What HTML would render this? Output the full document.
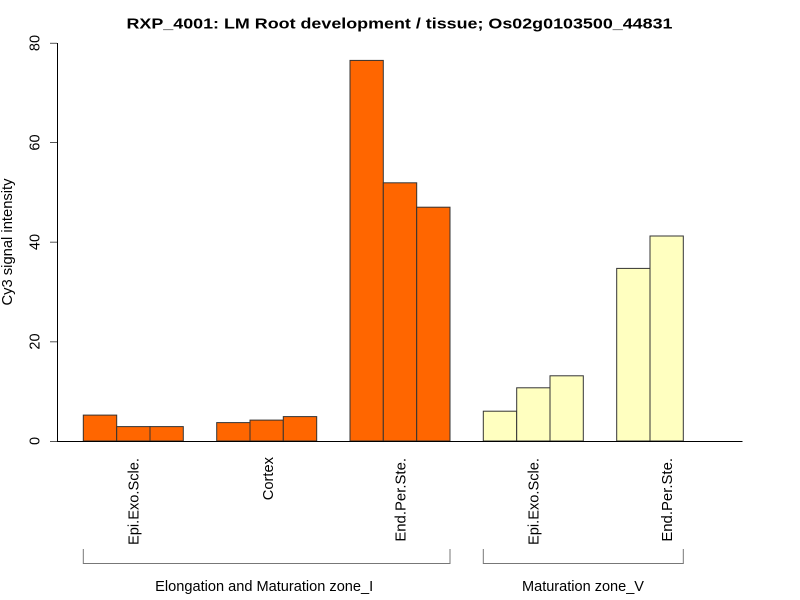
<!DOCTYPE html>
<html><head><meta charset="utf-8"><style>
html,body{margin:0;padding:0;background:#fff;}
svg{display:block;}
text{font-family:"Liberation Sans",Arial,sans-serif;fill:#000;}
</style></head><body>
<svg width="800" height="600" viewBox="0 0 800 600" xmlns="http://www.w3.org/2000/svg">
<rect width="800" height="600" fill="#fff"/>
<text x="399.5" y="28.5" font-size="15" font-weight="bold" text-anchor="middle" textLength="546" lengthAdjust="spacingAndGlyphs">RXP_4001: LM Root development / tissue; Os02g0103500_44831</text>
<g stroke="#333" stroke-width="1">
<rect x="83.3" y="415.1" width="33.4" height="25.9" fill="#FF6600"/>
<rect x="116.7" y="426.6" width="33.3" height="14.4" fill="#FF6600"/>
<rect x="150" y="426.6" width="33.3" height="14.4" fill="#FF6600"/>
<rect x="216.7" y="422.6" width="33.3" height="18.4" fill="#FF6600"/>
<rect x="250" y="420.1" width="33.3" height="20.9" fill="#FF6600"/>
<rect x="283.3" y="416.6" width="33.4" height="24.4" fill="#FF6600"/>
<rect x="350" y="60.4" width="33.3" height="380.6" fill="#FF6600"/>
<rect x="383.3" y="182.8" width="33.4" height="258.2" fill="#FF6600"/>
<rect x="416.7" y="207.2" width="33.3" height="233.8" fill="#FF6600"/>
<rect x="483.3" y="411.2" width="33.4" height="29.8" fill="#FFFFC0"/>
<rect x="516.7" y="387.8" width="33.3" height="53.2" fill="#FFFFC0"/>
<rect x="550" y="375.8" width="33.3" height="65.2" fill="#FFFFC0"/>
<rect x="616.7" y="268.4" width="33.3" height="172.6" fill="#FFFFC0"/>
<rect x="650" y="236" width="33.3" height="205" fill="#FFFFC0"/>
</g>
<g stroke="#000" stroke-width="1" fill="none">
<line x1="57.5" y1="43" x2="57.5" y2="441.5"/>
<line x1="57" y1="441.5" x2="742.5" y2="441.5"/>
</g>
<g stroke="#555" stroke-width="1">
<line x1="50" y1="441.5" x2="57" y2="441.5"/>
<line x1="50" y1="341.8" x2="57" y2="341.8"/>
<line x1="50" y1="242.2" x2="57" y2="242.2"/>
<line x1="50" y1="142.5" x2="57" y2="142.5"/>
<line x1="50" y1="43.3" x2="57" y2="43.3"/>
</g>
<g font-size="14.5" text-anchor="middle">
<text transform="translate(39.3,441) rotate(-90)">0</text>
<text transform="translate(39.3,341.5) rotate(-90)">20</text>
<text transform="translate(39.3,242) rotate(-90)">40</text>
<text transform="translate(39.3,142.5) rotate(-90)">60</text>
<text transform="translate(39.3,43) rotate(-90)">80</text>
<text transform="translate(12,242) rotate(-90)" textLength="127" lengthAdjust="spacingAndGlyphs">Cy3 signal intensity</text>
</g>
<g font-size="14.5" text-anchor="end">
<text transform="translate(138.5,458) rotate(-90)" textLength="87" lengthAdjust="spacingAndGlyphs">Epi.Exo.Scle.</text>
<text transform="translate(273,457) rotate(-90)" textLength="43.3" lengthAdjust="spacingAndGlyphs">Cortex</text>
<text transform="translate(405.5,458) rotate(-90)" textLength="83.7" lengthAdjust="spacingAndGlyphs">End.Per.Ste.</text>
<text transform="translate(538.5,458) rotate(-90)" textLength="87" lengthAdjust="spacingAndGlyphs">Epi.Exo.Scle.</text>
<text transform="translate(672,458) rotate(-90)" textLength="83.7" lengthAdjust="spacingAndGlyphs">End.Per.Ste.</text>
</g>
<g stroke="#777" stroke-width="1" fill="none">
<polyline points="83.3,549 83.3,563.5 450,563.5 450,549"/>
<polyline points="483.3,549 483.3,563.5 683.3,563.5 683.3,549"/>
</g>
<g font-size="14.5" text-anchor="middle">
<text x="264.2" y="591" textLength="218" lengthAdjust="spacingAndGlyphs">Elongation and Maturation zone_I</text>
<text x="583" y="591" textLength="122" lengthAdjust="spacingAndGlyphs">Maturation zone_V</text>
</g>
</svg>
</body></html>
